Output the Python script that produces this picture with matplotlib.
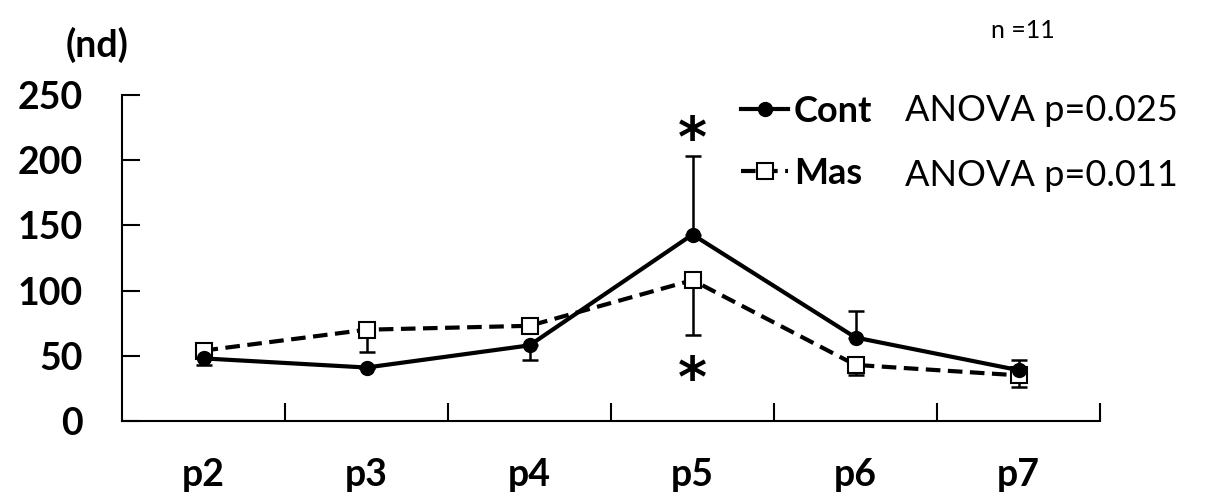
import matplotlib.pyplot as plt
import numpy as np

days = ['p2', 'p3', 'p4', 'p5', 'p6', 'p7']
cont = [48, 41, 58, 143, 64, 39]
mas = [54, 70, 73, 108, 43, 35]
# one-sided SD bars: (lower, upper)
cont_lo = [5, 0, 11, 0, 0, 0]
cont_hi = [0, 0, 0, 60, 20, 8]
mas_lo = [0, 17, 0, 42, 8, 9]
mas_hi = [0, 0, 0, 0, 0, 0]

plt.rcParams['font.family'] = ['Lato', 'DejaVu Sans']

fig = plt.figure(figsize=(12.08, 5.01), dpi=100)
ax = fig.add_axes([0.101, 0.1597, 0.8096, 0.6507])

x = np.arange(len(days)) + 0.5

ax.errorbar(x, mas, yerr=[mas_lo, mas_hi], fmt='none', ecolor='black',
            elinewidth=1.8, capsize=6, capthick=1.8, zorder=2)
ax.errorbar(x, cont, yerr=[cont_lo, cont_hi], fmt='none', ecolor='black',
            elinewidth=1.8, capsize=6, capthick=1.8, zorder=2)
l_mas, = ax.plot(x, mas, color='black', lw=3, ls=(0, (3.5, 1.8)), marker='s',
                 ms=11, mfc='white', mec='black', mew=1.5, zorder=3)
l_cont, = ax.plot(x, cont, color='black', lw=3, marker='o', ms=10,
                  mfc='black', mec='black', zorder=4)

ax.set_xlim(0, 6)
ax.set_ylim(0, 250)
ax.set_yticks([0, 50, 100, 150, 200, 250])
ax.set_xticks([1, 2, 3, 4, 5, 6])
ax.set_xticklabels([])
ax.tick_params(axis='both', direction='in', length=13, width=1.5)
ax.tick_params(axis='y', labelsize=27, pad=28)
for lbl in ax.get_yticklabels():
    lbl.set_fontweight('bold')
for s in ['top', 'right']:
    ax.spines[s].set_visible(False)
for s in ['left', 'bottom']:
    ax.spines[s].set_linewidth(1.5)

for xi, d in zip(x, days):
    ax.text(xi, -28, d, ha='center', va='top', fontsize=27,
            fontweight='bold', clip_on=False)

ax.text(x[3], 215, '*', ha='center', va='center', fontsize=40,
        family='DejaVu Sans', fontweight='bold')
ax.text(x[3], 31, '*', ha='center', va='center', fontsize=40,
        family='DejaVu Sans', fontweight='bold')

ax.legend([l_cont, l_mas], ['Cont', 'Mas'], loc='upper left',
          bbox_to_anchor=(0.6, 1.1), frameon=False, handlelength=1.3,
          handletextpad=0.15, labelspacing=0.8,
          prop={'size': 26, 'weight': 'bold'})

fig.text(0.749, 0.78, 'ANOVA p=0.025', fontsize=26, va='center')
fig.text(0.749, 0.65, 'ANOVA p=0.011', fontsize=26, va='center')
fig.text(0.054, 0.91, '(nd)', fontsize=27, fontweight='bold', va='center')
fig.text(0.82, 0.94, 'n =11', fontsize=18, va='center')

fig.savefig('out.png', dpi=100)
